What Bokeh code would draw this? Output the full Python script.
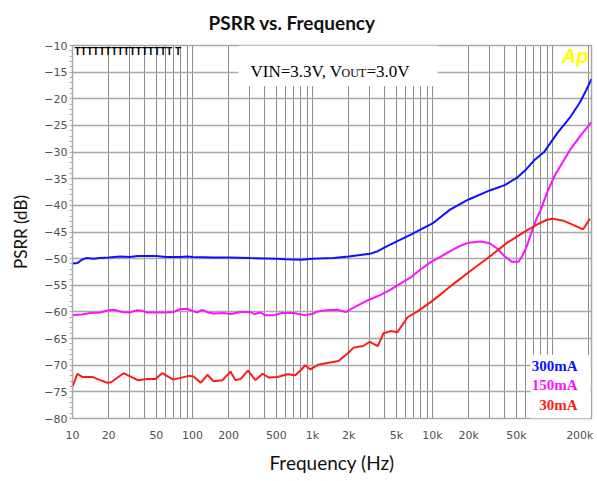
import math
from bokeh.plotting import figure
from bokeh.models import Range1d, FixedTicker, Label, BoxAnnotation
from bokeh.embed import file_html
from bokeh.resources import INLINE

# ---- data ----
f_300 = [10, 11, 12, 13, 15, 17, 20, 25, 30, 35, 50, 60, 80, 90, 100, 150, 200, 300, 500, 600,
         800, 1000, 1500, 2000, 2500, 3000, 3500, 4000, 5000, 6600, 8000, 10000, 14000, 20000,
         30000, 40000, 50000, 60000, 70000, 85000, 110000, 140000, 170000, 190000, 211000]
db_300 = [-50.9, -50.8, -50.2, -49.9, -50.0, -49.9, -49.8, -49.6, -49.7, -49.5, -49.5, -49.7,
          -49.7, -49.6, -49.7, -49.8, -49.8, -49.9, -50.0, -50.1, -50.2, -50.0, -49.9, -49.6,
          -49.3, -49.1, -48.6, -47.9, -46.8, -45.5, -44.5, -43.4, -40.8, -38.9, -37.2, -36.2,
          -34.9, -33.3, -31.6, -30.0, -26.4, -23.5, -20.6, -18.5, -16.3]

f_150 = [10, 12, 14, 17, 20, 22, 26, 30, 34, 38, 42, 50, 60, 70, 78, 90, 100, 110, 120, 135,
         150, 180, 210, 250, 300, 330, 370, 400, 480, 550, 700, 850, 1000, 1100, 1300, 1600,
         1900, 2200, 2900, 3700, 4400, 5100, 6600, 8000, 9600, 12000, 14000, 17000, 20000,
         25000, 30000, 35000, 40000, 46000, 52000, 56000, 61000, 67000, 73000, 80000, 90000,
         105000, 140000, 170000, 211000]
db_150 = [-60.6, -60.5, -60.2, -60.1, -59.7, -59.6, -60.0, -60.1, -59.7, -59.8, -60.1, -60.1,
          -60.1, -60.0, -59.5, -59.4, -59.8, -60.1, -59.6, -60.1, -60.3, -60.2, -60.4, -60.0,
          -60.0, -60.4, -60.1, -60.6, -60.6, -60.2, -60.2, -60.6, -60.4, -59.9, -59.7, -59.6,
          -60.0, -59.2, -57.8, -56.8, -55.9, -55.0, -53.5, -52.0, -50.7, -49.5, -48.6, -47.6,
          -47.0, -46.8, -47.1, -48.2, -49.6, -50.6, -50.6, -49.5, -47.7, -45.0, -42.7, -40.8,
          -37.6, -34.3, -29.6, -27.0, -24.4]

f_30 = [10, 11, 12, 14.6, 17, 19.5, 21, 26.6, 35, 42, 49, 56, 69, 93, 102, 117, 133, 150, 178,
        207, 228, 251, 290, 335, 383, 430, 510, 620, 720, 800, 870, 960, 1120, 1400, 1650, 2000,
        2200, 2650, 3000, 3500, 3900, 4500, 5100, 6200, 7500, 9600, 11700, 14100, 20400, 30000,
        42000, 57000, 74000, 90000, 100000, 124000, 150000, 180000, 205000]
db_30 = [-74.0, -71.6, -72.2, -72.2, -72.8, -73.3, -73.2, -71.5, -72.8, -72.6, -72.6, -71.5,
         -72.7, -72.0, -72.1, -73.3, -71.8, -73.0, -72.8, -71.2, -72.8, -72.6, -71.0, -72.8,
         -71.6, -72.3, -72.2, -71.7, -71.9, -70.9, -70.0, -70.8, -69.9, -69.5, -69.2, -67.6,
         -66.7, -66.4, -65.6, -66.4, -64.0, -63.6, -63.8, -61.0, -59.9, -58.2, -56.7, -55.2,
         -52.4, -49.6, -47.0, -45.1, -43.6, -42.7, -42.5, -42.9, -43.7, -44.5, -42.5]

x_tick_vals = [10, 20, 50, 100, 200, 500, 1000, 2000, 5000, 10000, 20000, 50000, 200000]
x_tick_text = ["10", "20", "50", "100", "200", "500", "1k", "2k", "5k", "10k", "20k", "50k", "200k"]
y_tick_vals = list(range(-80, -9, 5))
series_names = ["300mA", "150mA", "30mA"]
series_colors = ["#1010ff", "#ff10ff", "#ff1a1a"]

# ---- layout helpers (pixel -> data for annotation placement) ----
X0, PXDEC = 72.0, 120.0
Y0, PXDB = 45.0, 375.0 / 70.0
def fx(px):
    return 10 ** (1 + (px - X0) / PXDEC)
def fy(py):
    return -10 - (py - Y0) / PXDB

p = figure(width=593, height=476, x_axis_type="log", output_backend="svg",
           toolbar_location=None, x_range=Range1d(10, fx(591)), y_range=Range1d(-80, -10),
           min_border_left=72, min_border_right=2, min_border_top=45, min_border_bottom=56,
           title="PSRR vs. Frequency")
p.background_fill_color = "white"
p.border_fill_color = "white"
p.outline_line_color = "#a8a8a8"
p.outline_line_width = 1.5

p.title.text_font = "Lato"
p.title.text_font_style = "bold"
p.title.text_font_size = "19px"
p.title.text_color = "#111111"
p.title.align = "left"
p.title.offset = 136
p.title.standoff = 20
p.title.vertical_align = "top"

# grids
grid_x = [m * 10 ** e for e in range(1, 6) for m in range(1, 10) if m * 10 ** e <= 210000]
p.xgrid.ticker = FixedTicker(ticks=grid_x)
p.xgrid.grid_line_color = "#8c8c8c"
p.xgrid.grid_line_width = 1
p.ygrid.ticker = FixedTicker(ticks=y_tick_vals)
p.ygrid.grid_line_color = "#a8a8a8"
p.ygrid.grid_line_width = 1.5

# axes
p.xaxis.axis_label = "Frequency (Hz)"
p.xaxis.axis_label_text_font = "Lato"
p.xaxis.axis_label_text_font_style = "normal"
p.xaxis.axis_label_text_font_size = "19px"
p.xaxis.axis_label_text_color = "#111111"
p.xaxis.axis_label_standoff = 6
p.xaxis.ticker = FixedTicker(ticks=x_tick_vals)
p.xaxis.major_label_overrides = {v: t for v, t in zip(x_tick_vals, x_tick_text)}
p.xaxis.axis_line_color = None
p.xaxis.major_tick_line_color = None
p.xaxis.minor_tick_line_color = None
p.xaxis.major_label_standoff = 4
p.xaxis.major_label_text_font = "DejaVu Sans"
p.xaxis.major_label_text_font_size = "11px"
p.xaxis.major_label_text_color = "#505050"

p.yaxis.axis_label = "PSRR (dB)"
p.yaxis.axis_label_text_font = "Lato"
p.yaxis.axis_label_text_font_style = "normal"
p.yaxis.axis_label_text_font_size = "17px"
p.yaxis.axis_label_text_color = "#111111"
p.yaxis.axis_label_standoff = 10
p.yaxis.ticker = FixedTicker(ticks=y_tick_vals, minor_ticks=list(range(-80, -9)))
p.yaxis.axis_line_color = "#a8a8a8"
p.yaxis.major_tick_line_color = "#a0a0a0"
p.yaxis.major_tick_in = 0
p.yaxis.major_tick_out = 2
p.yaxis.minor_tick_line_color = "#b0b0b0"
p.yaxis.minor_tick_in = 0
p.yaxis.minor_tick_out = 3
p.yaxis.major_label_standoff = 2
p.yaxis.major_label_text_font = "DejaVu Sans"
p.yaxis.major_label_text_font_size = "11px"
p.yaxis.major_label_text_color = "#505050"

# white boxes behind the notes
p.add_layout(BoxAnnotation(left=fx(238), right=fx(437), top=-10, bottom=fy(86),
                           fill_color="white", fill_alpha=1, line_color=None, level="underlay"))
p.add_layout(BoxAnnotation(left=fx(530), right=fx(590), top=fy(356), bottom=-80,
                           fill_color="white", fill_alpha=1, line_color=None, level="underlay"))

# curves
for fs, dbs, c in zip([f_300, f_150, f_30], [db_300, db_150, db_30], series_colors):
    p.line(fs, dbs, line_color=c, line_width=2)

# texts inside the frame
p.add_layout(Label(x=fx(250), y=fy(71), text="VIN=3.3V, V", text_font="Liberation Serif",
                   text_font_size="17px", text_baseline="alphabetic", text_color="black"))
p.add_layout(Label(x=fx(341), y=fy(73), text="OUT", text_font="Liberation Serif",
                   text_font_size="12px", text_baseline="alphabetic", text_color="black"))
p.add_layout(Label(x=fx(366), y=fy(71), text="=3.0V", text_font="Liberation Serif",
                   text_font_size="17px", text_baseline="alphabetic", text_color="black"))

p.add_layout(Label(x=fx(588), y=fy(56), text="Ap", text_font="Liberation Sans",
                   text_font_style="bold italic", text_font_size="20px", text_align="right",
                   text_baseline="middle", text_color="#ffff00"))
p.add_layout(Label(x=fx(74), y=fy(46), text="TTTTTTTTTTTTTTTT  T", text_font="Liberation Sans",
                   text_font_style="bold", text_font_size="10px", text_baseline="top",
                   text_color="black"))

for name, c, py in zip(series_names, series_colors, [367, 386, 406]):
    p.add_layout(Label(x=fx(577), y=fy(py), text=name, text_font="Liberation Serif",
                       text_font_style="bold", text_font_size="15px", text_align="right",
                       text_baseline="middle", text_color=c))

open("out.html", "w").write(file_html(p, INLINE))
